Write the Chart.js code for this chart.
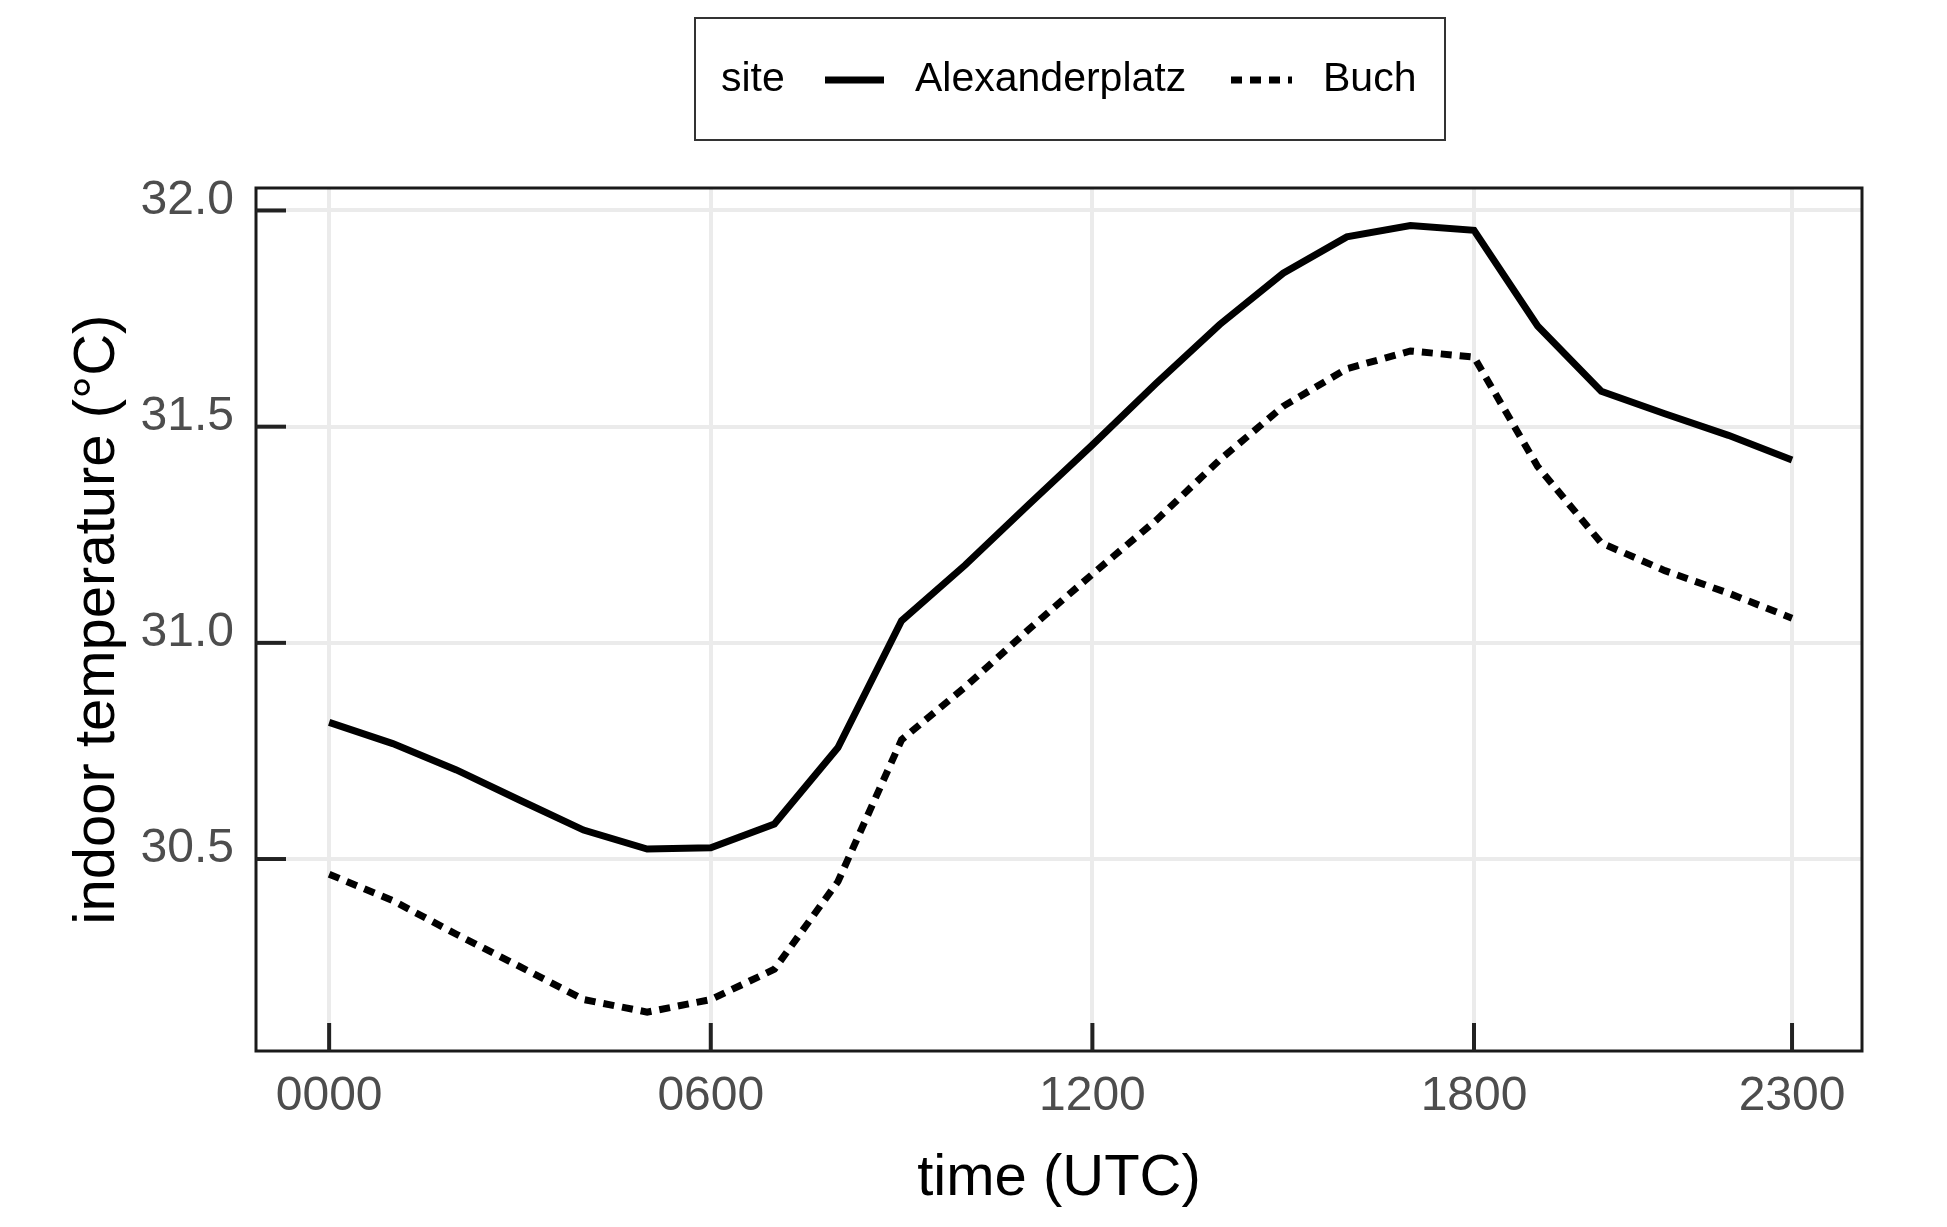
<!DOCTYPE html>
<html><head><meta charset="utf-8">
<script src="https://cdn.jsdelivr.net/npm/chart.js@4"></script>
<style>html,body{margin:0;padding:0;background:#fff}</style>
</head><body>
<div style="width:1947px;height:1227px"><canvas id="c"></canvas></div>
<script>
const hours = [0,1,2,3,4,5,6,7,8,9,10,11,12,13,14,15,16,17,18,19,20,21,22,23];
const alexanderplatz = [30.816,30.767,30.706,30.636,30.567,30.523,30.526,30.581,30.758,31.051,31.18,31.32,31.458,31.60,31.736,31.855,31.939,31.965,31.954,31.733,31.582,31.53,31.48,31.423];
const buch = [30.465,30.404,30.326,30.251,30.175,30.146,30.175,30.245,30.448,30.776,30.898,31.031,31.159,31.283,31.423,31.547,31.634,31.675,31.661,31.408,31.231,31.167,31.115,31.057];
const xTicks = [0,6,12,18,23];
const xTickLabels = ['0000','0600','1200','1800','2300'];
const yTicks = [30.5,31.0,31.5,32.0];
const seriesNames = ['Alexanderplatz','Buch'];
const FONT = '"Liberation Sans", Arial, sans-serif';

const deco = {
  id:'deco',
  afterDraw(chart){
    const ctx=chart.ctx, a=chart.chartArea, xs=chart.scales.x, ys=chart.scales.y;
    ctx.save();
    ctx.strokeStyle='#1a1a1a'; ctx.lineWidth=3;
    ctx.strokeRect(a.left,a.top,a.right-a.left,a.bottom-a.top);
    ctx.lineWidth=4; ctx.strokeStyle='#222';
    xTicks.forEach(t=>{const x=xs.getPixelForValue(t);ctx.beginPath();ctx.moveTo(x,a.bottom);ctx.lineTo(x,a.bottom-28);ctx.stroke();});
    yTicks.forEach(t=>{const y=ys.getPixelForValue(t);ctx.beginPath();ctx.moveTo(a.left,y);ctx.lineTo(a.left+30,y);ctx.stroke();});
    ctx.fillStyle='#4d4d4d'; ctx.font='48px '+FONT;
    ctx.textAlign='center'; ctx.textBaseline='top';
    xTicks.forEach((t,i)=>ctx.fillText(xTickLabels[i],xs.getPixelForValue(t),a.bottom+22));
    ctx.textAlign='right'; ctx.textBaseline='middle';
    yTicks.forEach(t=>ctx.fillText(t.toFixed(1),a.left-22,ys.getPixelForValue(t)-10));
    ctx.fillStyle='#000'; ctx.font='58px '+FONT;
    ctx.textAlign='center'; ctx.textBaseline='middle';
    ctx.fillText('time (UTC)',(a.left+a.right)/2,1179);
    ctx.save(); ctx.translate(98,(a.top+a.bottom)/2); ctx.rotate(-Math.PI/2);
    ctx.fillText('indoor temperature (°C)',0,0); ctx.restore();
    ctx.strokeStyle='#333'; ctx.lineWidth=2;
    ctx.strokeRect(695,18,750,122);
    ctx.font='41px '+FONT; ctx.textAlign='left'; ctx.fillStyle='#000';
    ctx.fillText('site',721,80);
    ctx.strokeStyle='#000'; ctx.lineWidth=7;
    ctx.beginPath();ctx.moveTo(825,80);ctx.lineTo(884,80);ctx.stroke();
    ctx.fillText(seriesNames[0],915,80);
    ctx.setLineDash([11,8]);
    ctx.beginPath();ctx.moveTo(1231,80);ctx.lineTo(1292,80);ctx.stroke();
    ctx.setLineDash([]);
    ctx.fillText(seriesNames[1],1323,80);
    ctx.restore();
  }
};

new Chart(document.getElementById('c'),{
  type:'line',
  data:{datasets:[
    {label:seriesNames[0],data:hours.map((h,i)=>({x:h,y:alexanderplatz[i]})),borderColor:'#000',borderWidth:7,pointRadius:0,tension:0,fill:false},
    {label:seriesNames[1],data:hours.map((h,i)=>({x:h,y:buch[i]})),borderColor:'#000',borderWidth:7,borderDash:[11,8],pointRadius:0,tension:0,fill:false}
  ]},
  options:{
    responsive:true,maintainAspectRatio:false,animation:false,devicePixelRatio:1,
    layout:{padding:{top:188,right:85,left:0,bottom:0}},
    plugins:{legend:{display:false},tooltip:{enabled:false}},
    scales:{
      x:{type:'linear',min:-1.15,max:24.1,
        afterFit(s){s.height=176;},
        afterBuildTicks(s){s.ticks=xTicks.map(v=>({value:v}));},
        grid:{color:'#ebebeb',lineWidth:4,drawTicks:false},border:{display:false},
        ticks:{display:false}},
      y:{type:'linear',min:30.056,max:32.052,
        afterFit(s){s.width=256;},
        afterBuildTicks(s){s.ticks=yTicks.map(v=>({value:v}));},
        grid:{color:'#ebebeb',lineWidth:4,drawTicks:false},border:{display:false},
        ticks:{display:false}}
    }
  },
  plugins:[deco]
});
</script>
</body></html>
